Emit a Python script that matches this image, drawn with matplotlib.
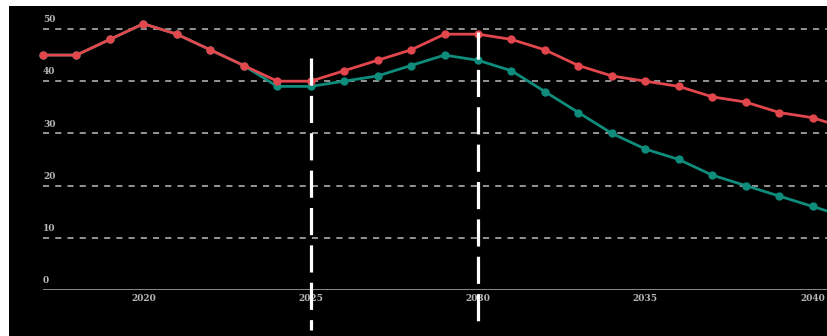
import matplotlib
matplotlib.use("Agg")
import matplotlib.pyplot as plt
from matplotlib.patches import Rectangle

# data
years = list(range(2017, 2042))
red_values = [45, 45, 48, 51, 49, 46, 43, 40, 40, 42, 44, 46, 49, 49,
              48, 46, 43, 41, 40, 39, 37, 36, 34, 33, 31]
green_values = [45, 45, 48, 51, 49, 46, 43, 39, 39, 40, 41, 43, 45, 44,
                42, 38, 34, 30, 27, 25, 22, 20, 18, 16, 14]
y_ticks = [0, 10, 20, 30, 40, 50]
x_ticks = [2020, 2025, 2030, 2035, 2040]
marker_years = [2025, 2030]
marker_tops = [44.4, 49.4]

RED = "#e2474d"
GREEN = "#0f8c7c"

fig = plt.figure(figsize=(8.28, 3.36), dpi=100, facecolor="black")

ax = fig.add_axes([43 / 828, 46 / 336, 1 - 43 / 828, 284 / 336])
ax.set_facecolor("black")
ax.set_xlim(2017, 2040.46)
ax.set_ylim(0, 54.4)

for v in y_ticks[1:]:
    ax.axhline(v, color="#bdbdbd", lw=1.1, ls=(0, (4, 4)), zorder=1)
ax.axhline(0, color="#8a8a8a", lw=1.4, zorder=1)

for v in y_ticks:
    ax.text(2017, v + 0.9, str(v), color="#b8b8b8", fontsize=6.5,
            fontweight="bold", family="DejaVu Serif", ha="left", va="bottom")

ax.plot(years, green_values, color=GREEN, lw=2, marker="o", ms=5,
        clip_on=False, zorder=3)
ax.plot(years, red_values, color=RED, lw=2, marker="o", ms=5,
        clip_on=False, zorder=4)

for yr, top in zip(marker_years, marker_tops):
    ax.plot([yr, yr], [top, -7.7], color="white", lw=2.3,
            dashes=(8.5, 3.2), clip_on=False, zorder=5)

ax.set_xticks(x_ticks)
ax.set_xticklabels([str(x) for x in x_ticks], color="#b8b8b8", fontsize=6.5,
                   fontweight="bold", family="DejaVu Serif")
ax.tick_params(axis="x", length=0, pad=3)
ax.set_yticks([])
for s in ax.spines.values():
    s.set_visible(False)

# white strips at top and left as in the screenshot
fig.add_artist(Rectangle((0, 0), 9 / 828, 1, transform=fig.transFigure,
                         facecolor="white", edgecolor="none", zorder=10))
fig.add_artist(Rectangle((0, 330 / 336), 1, 6 / 336, transform=fig.transFigure,
                         facecolor="white", edgecolor="none", zorder=10))

fig.savefig("out.png", dpi=100, facecolor="black")
